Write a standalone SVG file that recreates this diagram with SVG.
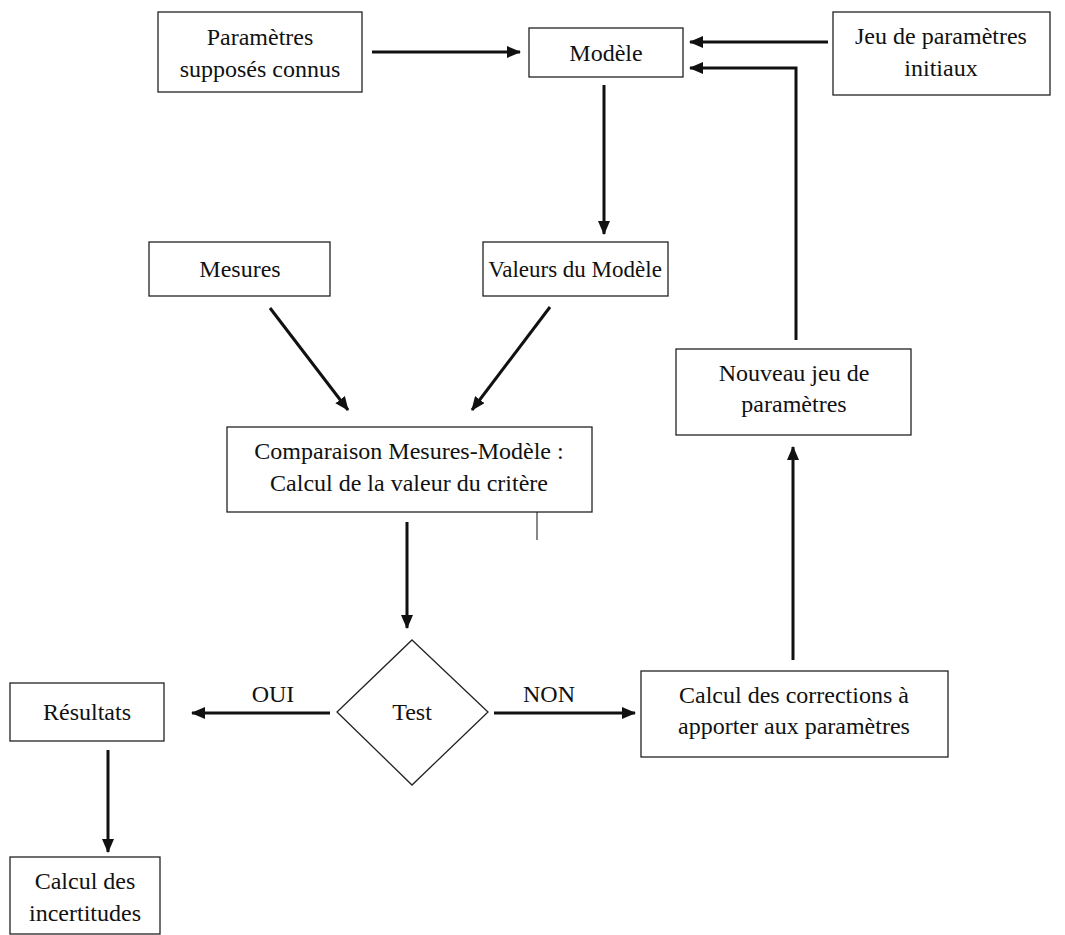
<svg xmlns="http://www.w3.org/2000/svg" width="1065" height="935" viewBox="0 0 1065 935">
<style>
.box{fill:#fff;stroke:#222;stroke-width:1.3}
.t{font-family:"Liberation Serif","Times New Roman",serif;font-size:24px;fill:#111;text-anchor:middle}
.c{fill:none;stroke:#111;stroke-width:3}
</style>
<defs>
<marker id="ah" viewBox="0 0 14 12" refX="13" refY="6" markerWidth="14" markerHeight="12" markerUnits="userSpaceOnUse" orient="auto">
<path d="M0,0 L14,6 L0,12 Z" fill="#111"/>
</marker>
</defs>
<rect width="1065" height="935" fill="#fff"/>
<g id="connectors">
<line class="c" x1="372" y1="52" x2="520" y2="52" marker-end="url(#ah)"/>
<line class="c" x1="828" y1="42" x2="690" y2="42" marker-end="url(#ah)"/>
<polyline class="c" points="796,340 796,68 690,68" marker-end="url(#ah)"/>
<line class="c" x1="604" y1="85" x2="604" y2="234" marker-end="url(#ah)"/>
<line class="c" x1="270" y1="308" x2="348" y2="410" marker-end="url(#ah)"/>
<line class="c" x1="550" y1="307" x2="472" y2="410" marker-end="url(#ah)"/>
<line x1="537" y1="512" x2="537" y2="540" stroke="#111" stroke-width="1"/>
<line class="c" x1="407" y1="522" x2="407" y2="628" marker-end="url(#ah)"/>
<line class="c" x1="330" y1="713" x2="192" y2="713" marker-end="url(#ah)"/>
<line class="c" x1="494" y1="713" x2="635" y2="713" marker-end="url(#ah)"/>
<line class="c" x1="108" y1="750" x2="108" y2="852" marker-end="url(#ah)"/>
<line class="c" x1="793" y1="660" x2="793" y2="447" marker-end="url(#ah)"/>
<text class="t" x="273" y="702">OUI</text>
<text class="t" x="549" y="702">NON</text>
</g>
<g id="n-params-connus">
<rect class="box" x="158" y="12" width="204" height="80"/>
<text class="t" x="260" y="45">Paramètres</text>
<text class="t" x="260" y="77">supposés connus</text>
</g>
<g id="n-modele">
<rect class="box" x="529" y="28" width="154" height="49"/>
<text class="t" x="606" y="61">Modèle</text>
</g>
<g id="n-jeu-initiaux">
<rect class="box" x="833" y="12" width="217" height="83"/>
<text class="t" x="941" y="44">Jeu de paramètres</text>
<text class="t" x="941" y="76">initiaux</text>
</g>
<g id="n-mesures">
<rect class="box" x="149" y="242" width="181" height="54"/>
<text class="t" x="240" y="277">Mesures</text>
</g>
<g id="n-valeurs">
<rect class="box" x="483" y="242" width="185" height="54"/>
<text class="t" x="575" y="277" style="font-size:23px">Valeurs du Modèle</text>
</g>
<g id="n-comparaison">
<rect class="box" x="227" y="427" width="365" height="85"/>
<text class="t" x="409" y="459">Comparaison Mesures-Modèle :</text>
<text class="t" x="409" y="491">Calcul de la valeur du critère</text>
</g>
<g id="n-test">
<polygon class="box" points="412,640 488,712 412,785 337,712"/>
<text class="t" x="412" y="720">Test</text>
</g>
<g id="n-resultats">
<rect class="box" x="10" y="683" width="154" height="58"/>
<text class="t" x="87" y="720">Résultats</text>
</g>
<g id="n-incertitudes">
<rect class="box" x="10" y="857" width="150" height="77"/>
<text class="t" x="85" y="889">Calcul des</text>
<text class="t" x="85" y="921">incertitudes</text>
</g>
<g id="n-corrections">
<rect class="box" x="641" y="671" width="307" height="86"/>
<text class="t" x="794" y="703">Calcul des corrections à</text>
<text class="t" x="794" y="734">apporter aux paramètres</text>
</g>
<g id="n-nouveau">
<rect class="box" x="676" y="349" width="235" height="86"/>
<text class="t" x="794" y="381">Nouveau jeu de</text>
<text class="t" x="794" y="412">paramètres</text>
</g>
</svg>
